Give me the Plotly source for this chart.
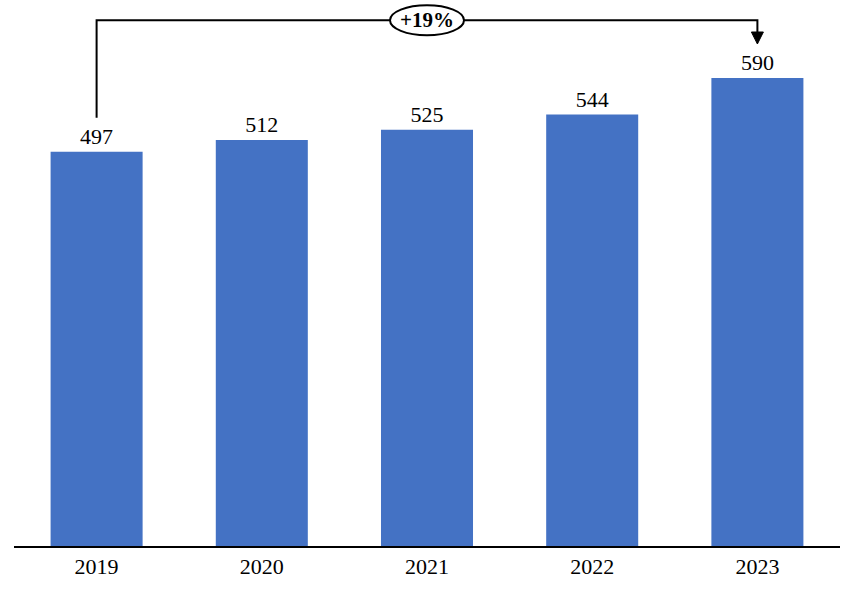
import plotly.graph_objects as go

years = ["2019", "2020", "2021", "2022", "2023"]
values = [497, 512, 525, 544, 590]
growth_label = "+19%"

bar_color = "#4472C4"
font_family = "Liberation Serif"

fig = go.Figure()
fig.add_trace(go.Bar(
    x=list(range(len(years))),
    y=values,
    width=0.557,
    marker=dict(color=bar_color, line=dict(width=0)),
    text=[str(v) for v in values],
    textposition="outside",
    textfont=dict(family=font_family, size=22, color="black"),
    cliponaxis=False,
    hoverinfo="skip",
))

first_i, last_i = 0, len(values) - 1
top_y = 663
gap = 43
mid_x = (first_i + last_i) / 2

# bracket line
fig.add_shape(
    type="path",
    xref="x", yref="y",
    path=f"M {first_i},{values[first_i] + gap} L {first_i},{top_y} L {last_i},{top_y} L {last_i},{values[last_i] + gap + 12}",
    line=dict(color="black", width=2),
)
# arrow head
fig.add_shape(
    type="path",
    xref="x", yref="y",
    xsizemode="pixel", ysizemode="pixel",
    xanchor=last_i, yanchor=values[last_i] + gap,
    path="M -6,12 L 6,12 L 0,0 Z",
    fillcolor="black",
    line=dict(color="black", width=1),
)
# ellipse
fig.add_shape(
    type="circle",
    xref="x", yref="y",
    xsizemode="pixel", ysizemode="pixel",
    xanchor=mid_x, yanchor=top_y,
    x0=-37, x1=37, y0=-15, y1=15,
    fillcolor="white",
    line=dict(color="black", width=2),
)
fig.add_annotation(
    x=mid_x, y=top_y, xref="x", yref="y",
    text=f"<b>{growth_label}</b>",
    showarrow=False,
    font=dict(family=font_family, size=21, color="black"),
)

fig.update_layout(
    width=854, height=589,
    margin=dict(l=14, r=14, t=0, b=43),
    plot_bgcolor="white", paper_bgcolor="white",
    showlegend=False,
    font=dict(family=font_family, size=22, color="black"),
    xaxis=dict(
        range=[-0.5, 4.5],
        tickmode="array",
        tickvals=list(range(len(years))),
        ticktext=years,
        showline=True, linecolor="black", linewidth=2,
        showgrid=False, zeroline=False, ticks="",
        tickfont=dict(family=font_family, size=22, color="black"),
    ),
    yaxis=dict(
        range=[0, 688.5],
        visible=False,
        showgrid=False, zeroline=False,
    ),
)

fig.write_html("out.html", config={"displayModeBar": False},
               post_script="document.body.style.margin='0';")
